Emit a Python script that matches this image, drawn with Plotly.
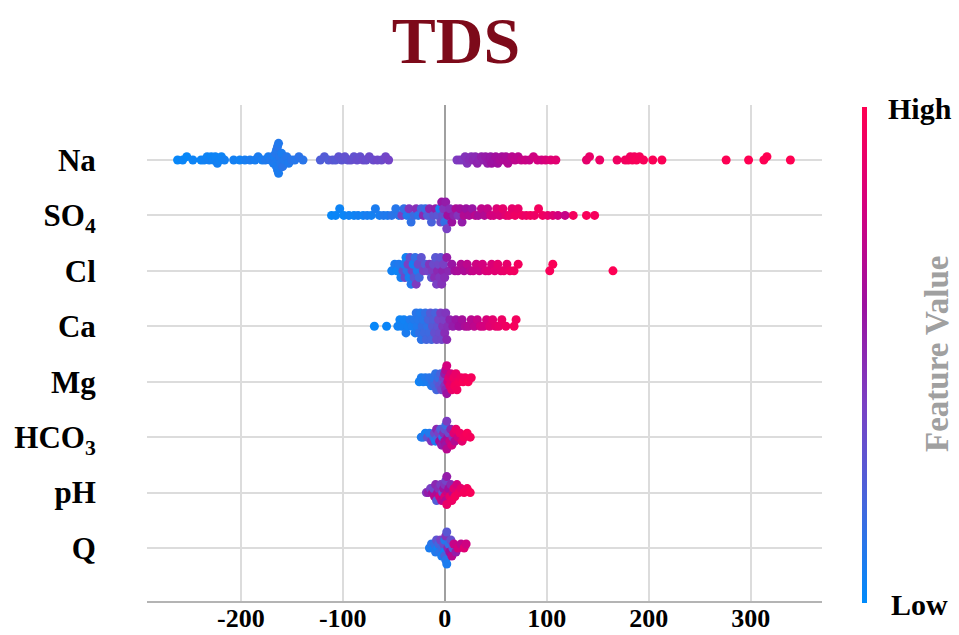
import numpy as np
import plotly.graph_objects as go

# ---------------- data ----------------
features = ["Na", "SO<sub>4</sub>", "Cl", "Ca", "Mg", "HCO<sub>3</sub>", "pH", "Q"]

na_shap = [-262, -257, -253, -247,
           -239, -236, -233, -231, -229, -227, -225, -223, -221, -219, -216,
           -207, -201, -196, -191, -186,
           -183, -179, -176, -173, -171, -169, -168, -167, -167, -166, -166, -165, -165, -164, -164,
           -163, -163, -162, -162, -161, -160, -159, -157, -155, -153, -150, -147, -143, -139,
           -122, -118, -114, -110, -107, -104, -101, -98, -95, -92, -89, -86, -83, -80, -77, -74,
           -70, -66, -62, -58, -55,
           12, 15, 18, 20, 22, 24, 26, 28, 30, 32, 34, 36, 38, 40, 42, 44, 45, 46, 48, 50, 52, 54,
           56, 58, 60, 62, 64, 66, 69, 72, 75, 79, 83, 87, 91, 95, 99, 104, 109,
           139, 142, 152, 169, 177, 180, 182, 184, 186, 188, 191, 195, 204, 213, 276, 298, 313, 316, 339]
na_val = [0.02, 0.03, 0.02, 0.04,
          0.03, 0.05, 0.04, 0.06, 0.03, 0.05, 0.04, 0.06, 0.05, 0.04, 0.06,
          0.06, 0.05, 0.07, 0.08, 0.07,
          0.08, 0.07, 0.09, 0.08, 0.10, 0.09, 0.08, 0.10, 0.07, 0.09, 0.11, 0.08, 0.10, 0.09, 0.12,
          0.08, 0.10, 0.09, 0.11, 0.10, 0.08, 0.12, 0.10, 0.11, 0.09, 0.12, 0.11, 0.13, 0.12,
          0.24, 0.26, 0.25, 0.28, 0.27, 0.30, 0.29, 0.31, 0.30, 0.32, 0.31, 0.33, 0.32, 0.34, 0.33, 0.35,
          0.34, 0.36, 0.35, 0.37, 0.38,
          0.42, 0.44, 0.43, 0.46, 0.45, 0.48, 0.47, 0.50, 0.49, 0.52, 0.51, 0.54, 0.53, 0.56, 0.55, 0.58,
          0.57, 0.60, 0.59, 0.62, 0.61, 0.64, 0.63, 0.66, 0.65, 0.68, 0.67, 0.70, 0.72, 0.71, 0.74, 0.76,
          0.75, 0.78, 0.80, 0.79, 0.82, 0.84, 0.86,
          0.88, 0.90, 0.91, 0.93, 0.94, 0.95, 0.94, 0.96, 0.95, 0.97, 0.96, 0.97, 0.98, 0.98, 0.99, 1.0,
          0.99, 1.0, 1.0]

so4_shap = [-111, -107, -103, -99, -94, -89, -85, -80, -76, -72, -68, -64, -60, -56, -52, -48,
            -45, -42, -40, -37, -35, -33, -30, -28, -26, -23, -21, -19, -17, -15, -13, -11, -9, -7,
            -5, -4, -3, -2, -1, 0, 1, 2, 3, 5, 7, 9, 11, 13, 15, 17, 19, 21, 24, 27, 30, 33, 36, 39,
            42, 45, 48, 51, 54, 57, 60, 63, 66, 69, 72, 76, 80, 84, 88, 92, 96, 101, 106, 111,
            118, 126, 139, 147]
so4_val = [0.02, 0.03, 0.04, 0.03, 0.05, 0.04, 0.06, 0.05, 0.07, 0.06, 0.08, 0.07, 0.10, 0.09, 0.12, 0.11,
           0.12, 0.40, 0.15, 0.10, 0.45, 0.14, 0.18, 0.48, 0.12, 0.20, 0.50, 0.16, 0.25, 0.52, 0.22, 0.30,
           0.55, 0.28, 0.08, 0.35, 0.58, 0.32, 0.45, 0.15, 0.55, 0.40, 0.62, 0.48, 0.60, 0.52, 0.65, 0.45,
           0.62, 0.55, 0.68, 0.60, 0.66, 0.58, 0.70, 0.64, 0.72, 0.68,
           0.74, 0.78, 0.80, 0.84, 0.82, 0.88, 0.86, 0.90, 0.88, 0.92, 0.90, 0.93, 0.91, 0.94, 0.92, 0.95,
           0.93, 0.90, 0.85, 0.80,
           0.75, 0.95, 0.97, 0.96]

cl_shap = [-52, -49, -47, -45, -43, -41, -40, -39, -38, -37, -36, -35, -34, -33, -32, -31, -30, -29,
           -28, -27, -26, -25, -23, -21, -19, -17, -15, -13, -12, -11, -10, -9, -8, -7, -6, -5, -4,
           -3, -2, -1, 0, 2, 4,
           7, 10, 13, 16, 19, 22, 25, 28, 31, 34, 37, 40, 43, 46, 49, 52, 55, 58, 61, 64, 68, 72,
           103, 106, 165]
cl_val = [0.05, 0.08, 0.04, 0.10, 0.06, 0.30, 0.08, 0.35, 0.05, 0.12, 0.40, 0.07, 0.32, 0.10, 0.38,
          0.06, 0.28, 0.15, 0.42, 0.09, 0.35, 0.20, 0.30, 0.40, 0.25, 0.38, 0.45, 0.30, 0.42, 0.35,
          0.48, 0.28, 0.40, 0.50, 0.36, 0.44, 0.30, 0.46, 0.52, 0.40, 0.48, 0.55, 0.50,
          0.58, 0.62, 0.65, 0.68, 0.66, 0.72, 0.70, 0.75, 0.78, 0.76, 0.80, 0.82, 0.84, 0.83, 0.86,
          0.88, 0.87, 0.90, 0.89, 0.92, 0.94, 0.95,
          0.97, 0.98, 0.99]

ca_shap = [-69, -57, -46, -44, -42, -40, -38, -36, -34, -32, -30, -29, -28, -27, -26, -25, -24, -23,
           -22, -21, -20, -19, -18, -17, -16, -15, -14, -13, -12, -11, -10, -9, -8, -7, -6, -5, -4,
           -3, -2, -1, 0, 1, 2, 3, 5,
           8, 11, 14, 17, 20, 23, 26, 29, 32, 35, 38, 41, 44, 47, 50, 53, 56, 60, 68, 70]
ca_val = [0.02, 0.03, 0.05, 0.04, 0.06, 0.05, 0.08, 0.06, 0.09, 0.07, 0.10, 0.08, 0.12, 0.09, 0.11,
          0.14, 0.10, 0.13, 0.16, 0.12, 0.18, 0.15, 0.20, 0.14, 0.22, 0.18, 0.26, 0.20, 0.28, 0.24,
          0.32, 0.22, 0.35, 0.30, 0.38, 0.34, 0.42, 0.36, 0.45, 0.40, 0.48, 0.44, 0.50, 0.47, 0.52,
          0.55, 0.58, 0.60, 0.63, 0.65, 0.68, 0.70, 0.72, 0.75, 0.78, 0.80, 0.82, 0.85, 0.87, 0.88,
          0.90, 0.92, 0.93, 0.96, 0.95]

mg_shap = [-25, -23, -21, -19, -17, -15, -13, -12, -11, -10, -9, -8, -7, -6, -5, -4, -3, -2, -1,
           0, 0, 1, 1, 2, 2, 3, 4, 5, 6, 7, 8, 9, 10, 11, 12, 14, 16, 18, 20, 23, 26]
mg_val = [0.05, 0.08, 0.06, 0.10, 0.08, 0.12, 0.10, 0.15, 0.12, 0.18, 0.14, 0.20, 0.25, 0.16, 0.30,
          0.22, 0.35, 0.28, 0.40, 0.45, 0.55, 0.50, 0.70, 0.60, 0.80, 0.75, 0.85, 0.88, 0.82, 0.90,
          0.86, 0.92, 0.95, 0.90, 0.94, 0.96, 0.93, 0.97, 0.95, 0.98, 0.96]

hco3_shap = [-23, -21, -19, -17, -15, -13, -11, -10, -9, -8, -7, -6, -5, -4, -3, -2, -1,
             0, 0, 1, 1, 2, 2, 3, 4, 5, 6, 7, 8, 9, 10, 11, 13, 15, 17, 19, 22, 25]
hco3_val = [0.08, 0.12, 0.06, 0.30, 0.10, 0.45, 0.15, 0.35, 0.08, 0.50, 0.20, 0.40, 0.60, 0.25,
            0.55, 0.12, 0.48, 0.65, 0.30, 0.58, 0.18, 0.70, 0.42, 0.62, 0.35, 0.75, 0.52, 0.80,
            0.45, 0.85, 0.68, 0.90, 0.78, 0.92, 0.88, 0.95, 0.97, 0.96]

ph_shap = [-18, -16, -14, -12, -11, -10, -9, -8, -7, -6, -5, -4, -3, -2, -1,
           0, 0, 1, 1, 2, 2, 3, 4, 5, 6, 7, 8, 9, 10, 12, 14, 16, 19, 22, 25]
ph_val = [0.45, 0.55, 0.40, 0.62, 0.35, 0.70, 0.50, 0.25, 0.65, 0.48, 0.80, 0.42, 0.72, 0.30,
          0.58, 0.85, 0.45, 0.68, 0.38, 0.90, 0.55, 0.75, 0.62, 0.88, 0.50, 0.92, 0.70, 0.85,
          0.95, 0.80, 0.93, 0.88, 0.96, 0.94, 0.97]

q_shap = [-15, -13, -11, -10, -9, -8, -7, -6, -5, -4, -3, -2, -1,
          0, 0, 0, 1, 1, 2, 2, 3, 4, 5, 6, 7, 8, 9, 11, 13, 16, 19, 21]
q_val = [0.08, 0.12, 0.06, 0.15, 0.10, 0.30, 0.05, 0.20, 0.12, 0.40, 0.08, 0.18, 0.35,
         0.05, 0.10, 0.22, 0.45, 0.12, 0.28, 0.08, 0.50, 0.15, 0.60, 0.32, 0.70, 0.25, 0.75,
         0.55, 0.80, 0.72, 0.85, 0.78]

x_ticks = [-200, -100, 0, 100, 200, 300]

shap_lists = [na_shap, so4_shap, cl_shap, ca_shap, mg_shap, hco3_shap, ph_shap, q_shap]
val_lists = [na_val, so4_val, cl_val, ca_val, mg_val, hco3_val, ph_val, q_val]

# ---------------- beeswarm layout (SHAP-style stacking) ----------------
def swarm(xs, bin_w=5.0, row_height=0.4):
    xs = np.asarray(xs, dtype=float)
    quant = np.round(xs / bin_w)
    inds = np.argsort(quant, kind="stable")
    ys = np.zeros(len(xs))
    layer, last = 0, None
    for ind in inds:
        if quant[ind] != last:
            layer = 0
        ys[ind] = np.ceil(layer / 2) * ((layer % 2) * 2 - 1)
        layer += 1
        last = quant[ind]
    ys *= 0.9 * (row_height / np.max(ys + 1))
    return ys

n = len(features)
all_x, all_y, all_c = [], [], []
for i, (sx, fv) in enumerate(zip(shap_lists, val_lists)):
    row = n - 1 - i
    ys = swarm(sx)
    all_x.extend(sx)
    all_y.extend(row + ys)
    all_c.extend(fv)

colorscale = [[0.0, "#008bfb"], [0.2, "#4466dd"], [0.4, "#7a40c4"],
              [0.6, "#9c10a0"], [0.8, "#d4007e"], [1.0, "#ff0052"]]

fig = go.Figure()
fig.add_trace(go.Scatter(
    x=all_x, y=all_y, mode="markers",
    marker=dict(size=9, color=all_c, coloraxis="coloraxis", line=dict(width=0)),
    hoverinfo="skip",
))

serif = "Liberation Serif"
fig.update_layout(
    width=959, height=635,
    margin=dict(l=147, r=137, t=105, b=34, autoexpand=False),
    paper_bgcolor="white", plot_bgcolor="white",
    showlegend=False,
    font=dict(family=serif, color="black"),
    title=dict(text="TDS", x=456 / 959, xref="container", xanchor="center",
               y=1 - 40 / 635, yref="container", yanchor="middle",
               font=dict(family=serif, size=66, color="#7d0a1a", weight="bold")),
    coloraxis=dict(
        cmin=0, cmax=1, colorscale=colorscale,
        colorbar=dict(thickness=5, x=(862 - 147) / 675, xanchor="left", xpad=0,
                      y=(601 - 355) / 496, yanchor="middle", len=496, lenmode="pixels",
                      ypad=0, outlinewidth=0, showticklabels=False, ticks=""),
    ),
    xaxis=dict(
        range=[-292, 370], tickvals=x_ticks, ticktext=[str(t) for t in x_ticks],
        showgrid=True, gridcolor="#dcdcdc", gridwidth=1.5,
        zeroline=True, zerolinecolor="#a0a0a0", zerolinewidth=2,
        showline=True, linecolor="#b4b4b4", linewidth=2, automargin=False,
        ticks="", ticklabelstandoff=-7,
        tickfont=dict(family=serif, size=26, color="black", weight="bold"),
    ),
    yaxis=dict(
        range=[-0.956, 7.992], tickvals=list(range(n - 1, -1, -1)), ticktext=features,
        showgrid=True, gridcolor="#dcdcdc", gridwidth=1.5, zeroline=False, showline=False,
        automargin=False,
        ticks="outside", ticklen=44, tickcolor="rgba(0,0,0,0)",
        tickfont=dict(family=serif, size=31, color="black", weight="bold"),
    ),
    annotations=[
        dict(text="High", xref="paper", yref="paper", x=(920 - 147) / 675, y=(601 - 108) / 496,
             showarrow=False, xanchor="center", yanchor="middle",
             font=dict(family=serif, size=30, color="black", weight="bold")),
        dict(text="Low", xref="paper", yref="paper", x=(920 - 147) / 675, y=(601 - 604) / 496,
             showarrow=False, xanchor="center", yanchor="middle",
             font=dict(family=serif, size=30, color="black", weight="bold")),
        dict(text="Feature Value", xref="paper", yref="paper", x=(937 - 147) / 675,
             y=(601 - 354) / 496, textangle=-90, showarrow=False,
             xanchor="center", yanchor="middle",
             font=dict(family=serif, size=33, color="#a0a0a0", weight="bold")),
    ],
)

fig.write_html("out.html")
